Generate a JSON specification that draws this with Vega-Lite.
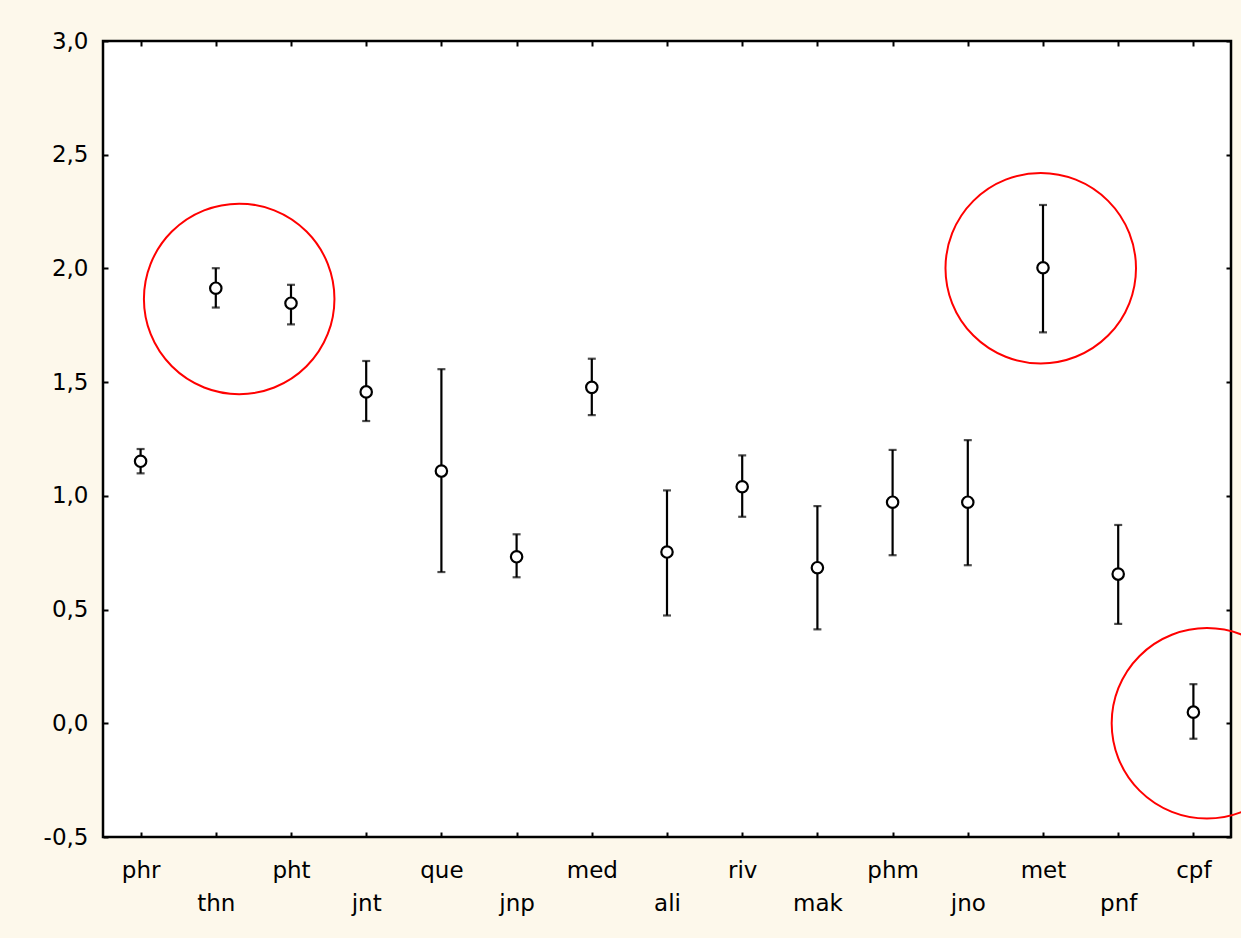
{
  "$schema": "https://vega.github.io/schema/vega-lite/v6.json",
  "autosize": "none",
  "width": 1128,
  "height": 796,
  "padding": {"left": 103, "top": 41, "right": 10, "bottom": 101},
  "background": "#FDF8EB",
  "config": {
    "view": {"stroke": "black", "strokeWidth": 2.5, "fill": "white"},
    "axis": {"domain": false, "grid": false, "tickColor": "black", "tickWidth": 2, "tickSize": -5,
             "labelFont": "DejaVu Sans", "labelFontSize": 23, "labelColor": "black", "title": null}
  },
  "datasets": {
    "stats": [
      {"group": "phr", "mean": 1.152, "lo": 1.099, "hi": 1.206},
      {"group": "thn", "mean": 1.913, "lo": 1.828, "hi": 2.001},
      {"group": "pht", "mean": 1.847, "lo": 1.754, "hi": 1.928},
      {"group": "jnt", "mean": 1.457, "lo": 1.329, "hi": 1.593},
      {"group": "que", "mean": 1.109, "lo": 0.665, "hi": 1.557},
      {"group": "jnp", "mean": 0.732, "lo": 0.642, "hi": 0.831},
      {"group": "med", "mean": 1.477, "lo": 1.355, "hi": 1.603},
      {"group": "ali", "mean": 0.753, "lo": 0.474, "hi": 1.024},
      {"group": "riv", "mean": 1.040, "lo": 0.908, "hi": 1.178},
      {"group": "mak", "mean": 0.684, "lo": 0.413, "hi": 0.955},
      {"group": "phm", "mean": 0.972, "lo": 0.739, "hi": 1.202},
      {"group": "jno", "mean": 0.972, "lo": 0.695, "hi": 1.245},
      {"group": "met", "mean": 2.003, "lo": 1.719, "hi": 2.279},
      {"group": "pnf", "mean": 0.656, "lo": 0.437, "hi": 0.872},
      {"group": "cpf", "mean": 0.049, "lo": -0.068, "hi": 0.172}
    ],
    "rings": [
      {"pos": 1.811, "value": 1.866},
      {"pos": 12.47, "value": 2.001},
      {"pos": 14.68, "value": 0.0}
    ]
  },
  "resolve": {"scale": {"x": "independent"}, "axis": {"x": "independent", "y": "independent"}},
  "layer": [
    {
      "data": {"name": "stats"},
      "mark": {"type": "rule", "color": "black", "strokeWidth": 2.2},
      "encoding": {
        "x": {"field": "group", "type": "nominal", "sort": null,
              "scale": {"type": "point", "padding": 0.5},
              "axis": {"orient": "bottom", "labelAngle": 0, "labelPadding": 27, "labelLineHeight": 33, "labelBaseline": "top",
                       "labelExpr": "indexof(['thn','jnt','jnp','ali','mak','jno','pnf'], datum.value) >= 0 ? ['', datum.value] : datum.value"}},
        "y": {"field": "lo", "type": "quantitative",
              "scale": {"domain": [-0.5, 3.0], "nice": false, "zero": false},
              "axis": {"orient": "left", "values": [-0.5, 0, 0.5, 1, 1.5, 2, 2.5, 3],
                       "labelPadding": 20,
                       "labelExpr": "replace(replace(format(datum.value, '.1f'), '.', ','), '\u2212', '-')"}},
        "y2": {"field": "hi"}
      }
    },
    {
      "data": {"name": "stats"},
      "mark": {"type": "tick", "color": "black", "size": 8, "thickness": 2.2},
      "encoding": {
        "x": {"field": "group", "type": "nominal", "sort": null,
              "scale": {"type": "point", "padding": 0.5},
              "axis": {"orient": "top", "labels": false}},
        "y": {"field": "hi", "type": "quantitative",
              "axis": {"orient": "right", "labels": false, "values": [-0.5, 0, 0.5, 1, 1.5, 2, 2.5, 3]}}
      }
    },
    {
      "data": {"name": "stats"},
      "mark": {"type": "tick", "color": "black", "size": 8, "thickness": 2.2},
      "encoding": {
        "x": {"field": "group", "type": "nominal", "sort": null,
              "scale": {"type": "point", "padding": 0.5}, "axis": null},
        "y": {"field": "lo", "type": "quantitative", "axis": null}
      }
    },
    {
      "data": {"name": "stats"},
      "mark": {"type": "point", "shape": "circle", "filled": false, "fill": "white", "fillOpacity": 1,
               "stroke": "black", "strokeWidth": 2.2, "opacity": 1, "size": 130},
      "encoding": {
        "x": {"field": "group", "type": "nominal", "sort": null,
              "scale": {"type": "point", "padding": 0.5}, "axis": null},
        "y": {"field": "mean", "type": "quantitative", "axis": null}
      }
    },
    {
      "data": {"name": "rings"},
      "mark": {"type": "point", "shape": "circle", "filled": false, "fill": null,
               "stroke": "#FF0000", "strokeWidth": 2, "opacity": 1, "size": 36300},
      "encoding": {
        "x": {"field": "pos", "type": "quantitative",
              "scale": {"domain": [0, 15], "nice": false, "zero": false}, "axis": null},
        "y": {"field": "value", "type": "quantitative", "axis": null}
      }
    }
  ]
}
